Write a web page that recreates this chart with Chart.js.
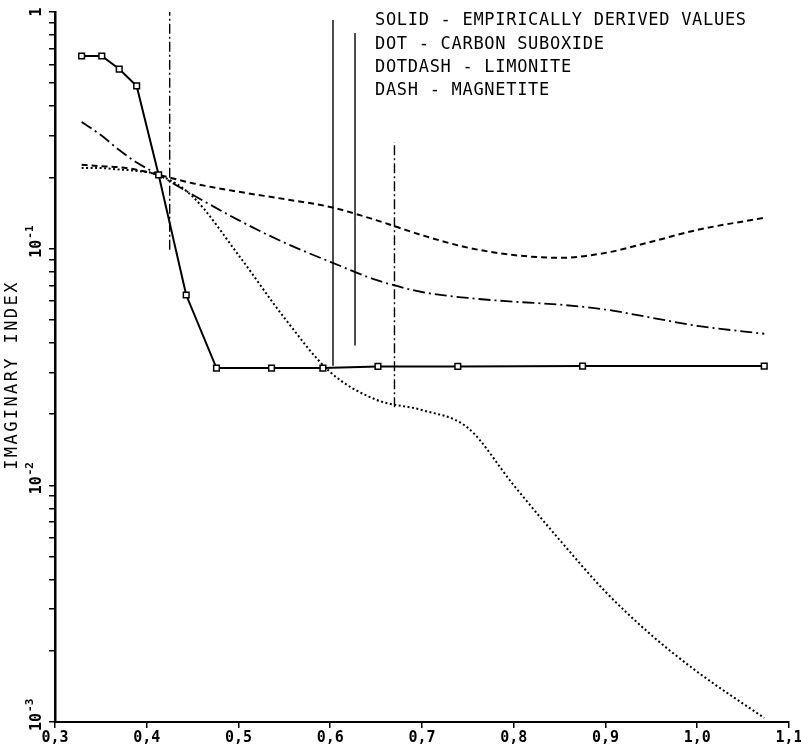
<!DOCTYPE html>
<html>
<head>
<meta charset="utf-8">
<script src="https://cdn.jsdelivr.net/npm/chart.js@4.4.1/dist/chart.umd.min.js"></script>
<style>
  html, body { margin: 0; padding: 0; background: #fff; }
  #wrap { width: 801px; height: 746px; }
</style>
</head>
<body>
<div id="wrap"><canvas id="myChart"></canvas></div>
<script>
// wavelength (x) and imaginary index (y)
var solidX = [0.329, 0.351, 0.370, 0.389, 0.413, 0.443, 0.476, 0.536, 0.592, 0.652, 0.739, 0.875, 1.073];
var solidY = [0.652, 0.652, 0.574, 0.487, 0.205, 0.0637, 0.0313, 0.0313, 0.0313, 0.0318, 0.0318, 0.0319, 0.0319];

var curveX = [0.329, 0.35, 0.37, 0.39, 0.413, 0.45, 0.5, 0.55, 0.6, 0.65, 0.7, 0.75, 0.8, 0.85, 0.9, 0.95, 1.0, 1.073];
var carbonY = [0.219, 0.219, 0.216, 0.213, 0.205, 0.166, 0.094, 0.051, 0.0301, 0.023, 0.0208, 0.0175, 0.0100, 0.00588, 0.00355, 0.00233, 0.00163, 0.00104];
var limoniteY = [0.343, 0.302, 0.261, 0.230, 0.205, 0.169, 0.132, 0.106, 0.088, 0.0738, 0.0656, 0.0619, 0.0597, 0.058, 0.0553, 0.0511, 0.0472, 0.0437];
var magnetiteY = [0.226, 0.223, 0.221, 0.215, 0.205, 0.189, 0.174, 0.162, 0.150, 0.132, 0.114, 0.101, 0.094, 0.0915, 0.096, 0.107, 0.120, 0.135];

// vertical range bars
var barX = [0.425, 0.603, 0.627, 0.670];
var barLow = [0.099, 0.032, 0.039, 0.0214];
var barHigh = [1.0, 0.925, 0.815, 0.282];

var xTickLabels = ['0,3', '0,4', '0,5', '0,6', '0,7', '0,8', '0,9', '1,0', '1,1'];
var yTickValues = [1, 0.1, 0.01, 0.001];
var yTickBase = ['1', '10', '10', '10'];
var yTickExp = ['', '-1', '-2', '-3'];
var yTitle = 'IMAGINARY INDEX';
var legendLines = [
  'SOLID - EMPIRICALLY DERIVED VALUES',
  'DOT - CARBON SUBOXIDE',
  'DOTDASH - LIMONITE',
  'DASH - MAGNETITE'
];

function pts(xs, ys) {
  return xs.map(function (x, i) { return { x: x, y: ys[i] }; });
}

var datasets = [
  {
    label: 'SOLID', data: pts(solidX, solidY),
    borderColor: '#000', borderWidth: 2, tension: 0,
    pointStyle: 'rect', pointRadius: 4, pointBorderWidth: 1.5,
    pointBackgroundColor: '#fff', pointBorderColor: '#000'
  },
  {
    label: 'DOT', data: pts(curveX, carbonY),
    borderColor: '#000', borderWidth: 2, borderDash: [2, 2.5],
    cubicInterpolationMode: 'monotone', pointRadius: 0
  },
  {
    label: 'DOTDASH', data: pts(curveX, limoniteY),
    borderColor: '#000', borderWidth: 1.8, borderDash: [12, 4, 2, 4],
    cubicInterpolationMode: 'monotone', pointRadius: 0
  },
  {
    label: 'DASH', data: pts(curveX, magnetiteY),
    borderColor: '#000', borderWidth: 2, borderDash: [6, 4],
    cubicInterpolationMode: 'monotone', pointRadius: 0
  }
];

var barStyles = [[10, 3, 2, 3], [], [], [10, 3, 2, 3]];
barX.forEach(function (x, i) {
  datasets.push({
    label: 'bar' + i, data: [{ x: x, y: barLow[i] }, { x: x, y: barHigh[i] }],
    borderColor: '#000', borderWidth: 1.4, borderDash: barStyles[i],
    pointRadius: 0, tension: 0
  });
});

var tickFont = { family: 'DejaVu Sans Mono', size: 15, weight: 'bold' };

var labelPlugin = {
  id: 'labels',
  afterDraw: function (chart) {
    var ctx = chart.ctx;
    var y = chart.scales.y;
    ctx.save();
    ctx.fillStyle = '#000';
    ctx.textBaseline = 'middle';
    ctx.textAlign = 'left';
    yTickValues.forEach(function (v, i) {
      var py = y.getPixelForValue(v);
      ctx.font = 'bold 15px "DejaVu Sans Mono"';
      var w = ctx.measureText(yTickBase[i]).width;
      ctx.save();
      ctx.translate(37, py + w / 2);
      ctx.rotate(-Math.PI / 2);
      ctx.fillText(yTickBase[i], 0, 0);
      if (yTickExp[i]) {
        ctx.font = 'bold 11px "DejaVu Sans Mono"';
        ctx.fillText(yTickExp[i], w + 1, -7);
      }
      ctx.restore();
    });
    // axis title
    var cy = (chart.chartArea.top + chart.chartArea.bottom) / 2 + 8;
    ctx.save();
    ctx.font = '17px "DejaVu Sans Mono"';
    ctx.letterSpacing = '2.4px';
    ctx.translate(13, cy);
    ctx.rotate(-Math.PI / 2);
    ctx.textAlign = 'center';
    ctx.fillText(yTitle, 0, 0);
    ctx.restore();
    // key text
    ctx.font = '17px "DejaVu Sans Mono"';
    ctx.letterSpacing = '0.7px';
    legendLines.forEach(function (t, i) {
      ctx.fillText(t, 375, 21 + i * 23.3);
    });
    ctx.restore();
  }
};

var ctx = document.getElementById('myChart').getContext('2d');
var myChart = new Chart(ctx, {
  type: 'line',
  data: { datasets: datasets },
  plugins: [labelPlugin],
  options: {
    responsive: true,
    maintainAspectRatio: false,
    animation: false,
    layout: { autoPadding: false, padding: { top: 12, right: 12, left: 0, bottom: 0 } },
    plugins: { legend: { display: false }, tooltip: { enabled: false } },
    scales: {
      x: {
        type: 'linear', min: 0.3, max: 1.1,
        border: { display: true, color: '#000', width: 2 },
        grid: { drawOnChartArea: false, drawTicks: true, tickLength: 6, color: '#000', lineWidth: 1.5 },
        ticks: {
          stepSize: 0.1, color: '#000', font: tickFont, padding: 1, maxRotation: 0,
          callback: function (v, i) { return xTickLabels[i]; }
        },
        afterFit: function (s) { s.height = 24; s.paddingLeft = 0; s.paddingRight = 0; }
      },
      y: {
        type: 'logarithmic', min: 0.001, max: 1,
        border: { display: true, color: '#000', width: 2.5 },
        grid: { drawOnChartArea: false, drawTicks: true, tickLength: 6, color: '#000', lineWidth: 1.5 },
        ticks: { display: false, autoSkip: false },
        afterBuildTicks: function (s) {
          s.ticks = s.ticks.filter(function (t) {
            var m = t.value / Math.pow(10, Math.floor(Math.log10(t.value) + 1e-9));
            return Math.abs(m - Math.round(m)) < 1e-6;
          });
        },
        afterFit: function (s) { s.width = 55; s.paddingTop = 0; s.paddingBottom = 0; }
      }
    }
  }
});
</script>
</body>
</html>
